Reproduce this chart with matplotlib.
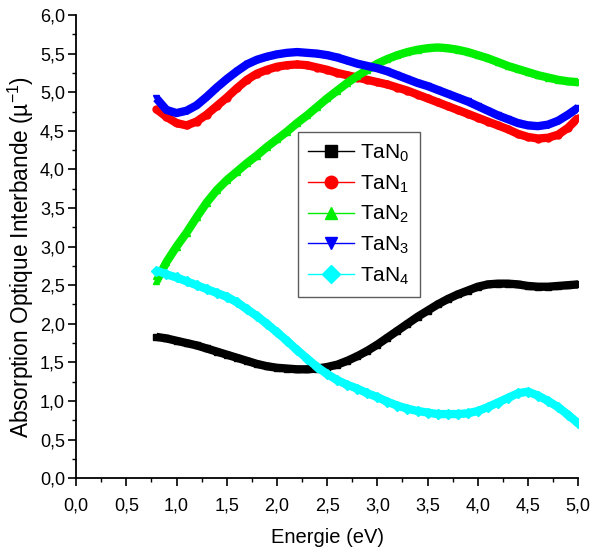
import numpy as np
import matplotlib
matplotlib.use("Agg")
import matplotlib.pyplot as plt
from matplotlib.lines import Line2D
from matplotlib.ticker import MultipleLocator, FuncFormatter

plt.rcParams['font.family'] = ['Liberation Sans', 'DejaVu Sans']
plt.rcParams['mathtext.fontset'] = 'custom'
plt.rcParams['mathtext.rm'] = 'Liberation Sans'
plt.rcParams['mathtext.it'] = 'Liberation Sans'
plt.rcParams['mathtext.default'] = 'regular'

# Photon energy grid (eV)
energy = [0.8, 0.9, 1.0, 1.1, 1.2, 1.3, 1.4, 1.5, 1.6, 1.7, 1.8, 1.9, 2.0, 2.1,
          2.2, 2.3, 2.4, 2.5, 2.6, 2.7, 2.8, 2.9, 3.0, 3.1, 3.2, 3.3, 3.4, 3.5,
          3.6, 3.7, 3.8, 3.9, 4.0, 4.1, 4.2, 4.3, 4.4, 4.5, 4.6, 4.7, 4.8, 4.9, 5.0]

tan0 = [1.83, 1.81, 1.78, 1.75, 1.72, 1.68, 1.64, 1.60, 1.56, 1.52, 1.48, 1.45, 1.43, 1.42,
        1.41, 1.41, 1.42, 1.44, 1.47, 1.52, 1.58, 1.65, 1.73, 1.82, 1.91, 2.00, 2.09, 2.17,
        2.25, 2.32, 2.38, 2.43, 2.48, 2.51, 2.52, 2.52, 2.51, 2.49, 2.48, 2.48, 2.49, 2.50, 2.51]

tan1 = [4.78, 4.68, 4.60, 4.57, 4.62, 4.71, 4.82, 4.93, 5.05, 5.16, 5.24, 5.29, 5.33, 5.35,
        5.36, 5.35, 5.32, 5.29, 5.25, 5.22, 5.19, 5.16, 5.13, 5.10, 5.06, 5.02, 4.97, 4.92,
        4.87, 4.82, 4.77, 4.72, 4.67, 4.62, 4.57, 4.52, 4.46, 4.42, 4.40, 4.41, 4.45, 4.54, 4.67]

tan2 = [2.55, 2.80, 3.00, 3.18, 3.38, 3.57, 3.73, 3.86, 3.97, 4.08, 4.18, 4.29, 4.39, 4.49,
        4.60, 4.70, 4.81, 4.92, 5.02, 5.12, 5.21, 5.29, 5.37, 5.43, 5.48, 5.52, 5.55, 5.57,
        5.58, 5.57, 5.55, 5.52, 5.48, 5.44, 5.39, 5.34, 5.30, 5.26, 5.22, 5.19, 5.16, 5.14, 5.13]

tan3 = [4.92, 4.77, 4.73, 4.76, 4.83, 4.94, 5.06, 5.17, 5.27, 5.36, 5.42, 5.46, 5.49, 5.51,
        5.52, 5.51, 5.50, 5.48, 5.45, 5.41, 5.37, 5.34, 5.31, 5.27, 5.22, 5.17, 5.12, 5.08,
        5.03, 4.98, 4.93, 4.88, 4.82, 4.76, 4.70, 4.65, 4.60, 4.57, 4.56, 4.58, 4.63, 4.71, 4.80]

tan4 = [2.69, 2.64, 2.60, 2.55, 2.50, 2.45, 2.40, 2.35, 2.28, 2.19, 2.10, 2.00, 1.89, 1.78,
        1.66, 1.55, 1.44, 1.35, 1.27, 1.21, 1.16, 1.10, 1.05, 0.99, 0.94, 0.90, 0.87, 0.85,
        0.83, 0.83, 0.83, 0.84, 0.87, 0.92, 0.98, 1.04, 1.10, 1.12, 1.07, 1.00, 0.92, 0.82, 0.71]

labels = ['TaN$_0$', 'TaN$_1$', 'TaN$_2$', 'TaN$_3$', 'TaN$_4$']
series = [tan0, tan1, tan2, tan3, tan4]
colors = ['#000000', '#ff0000', '#00ee00', '#0000ff', '#00ffff']
markers = ['s', 'o', '^', 'v', 'D']

fig = plt.figure(figsize=(5.9, 5.56), dpi=100)
ax = fig.add_axes([0.129, 0.140, 0.851, 0.833])

for vals, c, m in zip(series, colors, markers):
    ax.plot(energy, vals, color=c, lw=6.0, solid_capstyle='butt',
            solid_joinstyle='round', marker=m, ms=5, mec=c, mfc=c, zorder=3)

ax.set_xlim(0, 5.0)
ax.set_ylim(0, 6.0)
ax.xaxis.set_major_locator(MultipleLocator(0.5))
ax.xaxis.set_minor_locator(MultipleLocator(0.25))
ax.yaxis.set_major_locator(MultipleLocator(0.5))
ax.yaxis.set_minor_locator(MultipleLocator(0.25))
comma = FuncFormatter(lambda v, p: f"{v:.1f}".replace('.', ','))
ax.xaxis.set_major_formatter(comma)
ax.yaxis.set_major_formatter(comma)

for s in ['top', 'right']:
    ax.spines[s].set_visible(False)
for s in ['left', 'bottom']:
    ax.spines[s].set_linewidth(1.3)

ax.tick_params(which='major', direction='out', length=6, width=1.2, pad=2,
               labelsize=13)
ax.tick_params(which='minor', direction='out', length=3, width=1.0)
ax.tick_params(axis='x', pad=8)

ax.set_xlabel('Energie (eV)', fontsize=14.5, labelpad=10)
ax.set_ylabel('Absorption Optique Interbande (µ$^{-1}$)', fontsize=16.3)
ax.yaxis.set_label_coords(-0.08, 0.478)

handles = [Line2D([], [], color=c, lw=1.0, marker=m, ms=9, mec=c, mfc=c)
           for c, m in zip(colors, markers)]
leg = ax.legend(handles, labels, loc='upper left', bbox_to_anchor=(0.441, 0.747),
                fontsize=15, frameon=True, fancybox=False,
                edgecolor='#333333', handlelength=2.2, handletextpad=0.3,
                borderpad=0.5, labelspacing=0.45, borderaxespad=0)
leg.get_frame().set_linewidth(1.0)

fig.savefig('out.png', dpi=100, facecolor='white')
